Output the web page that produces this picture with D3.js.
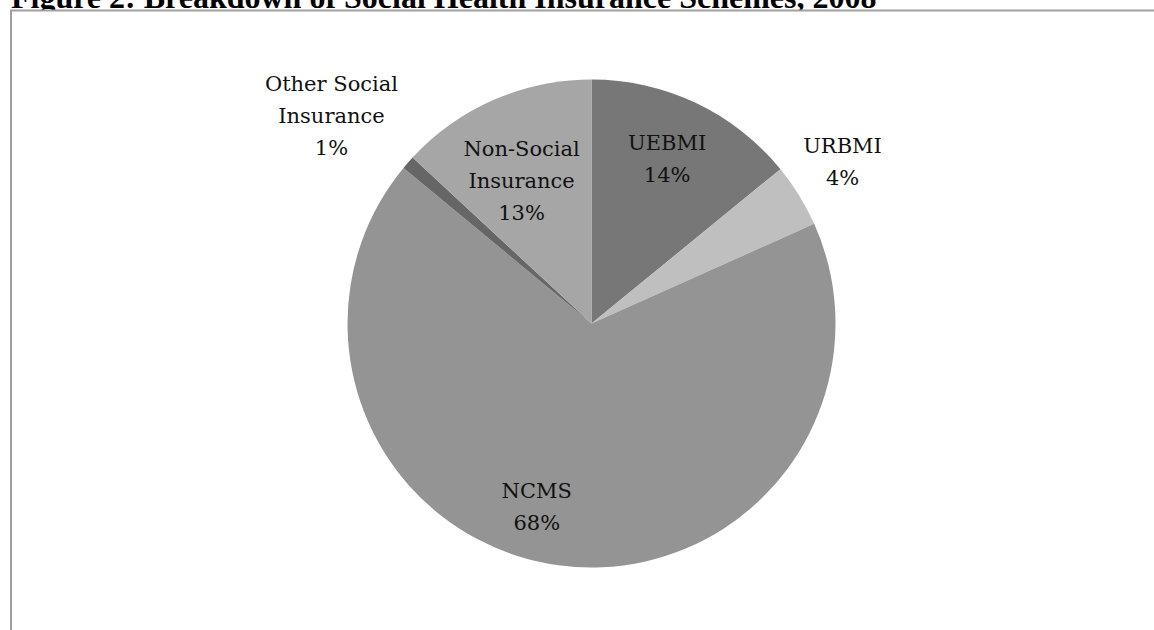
<!DOCTYPE html>
<html><head><meta charset="utf-8">
<script src="https://cdn.jsdelivr.net/npm/d3@7"></script>
<style>html,body{margin:0;padding:0;background:#fff;overflow:hidden}</style>
</head><body>
<svg id="c" width="1154" height="630"></svg>
<script>
const title = "Figure 2: Breakdown of Social Health Insurance Schemes, 2008";
const categories = ["UEBMI", "URBMI", "NCMS", "Other Social Insurance", "Non-Social Insurance"];
const labelLines = [["UEBMI"], ["URBMI"], ["NCMS"], ["Other Social", "Insurance"], ["Non-Social", "Insurance"]];
const values = [14.1, 4.2, 67.7, 0.9, 13.1];
const colors = ["#777777", "#bfbfbf", "#949494", "#666666", "#a6a6a6"];

const svg = d3.select("#c");
const cx = 591.5, cy = 323.5, R = 244;
// label placement (style): radius factor and small nudges
const labelRadius = [0.714, 1.209, 0.814, 1.346, 0.624];
const labelNudge = [[1, 0], [0, 0], [-28, -6], [-13, 16], [-9, 4]];
const lineH = 32;

// title (clipped at the top as in the source; chart area covers its descenders)
svg.append("text").attr("x", 11).attr("y", 8)
  .attr("font-family", "Liberation Serif, Times New Roman, serif")
  .attr("font-weight", "bold").attr("font-size", 32).attr("fill", "#000")
  .text(title);

// chart area frame
svg.append("rect").attr("x", 11).attr("y", 10.5).attr("width", 1300).attr("height", 800)
  .attr("fill", "#fff").attr("stroke", "#a0a0a0").attr("stroke-width", 2);

const pie = d3.pie().sort(null).value(d => d)(values);
const arc = d3.arc().innerRadius(0).outerRadius(R);
const g = svg.append("g").attr("transform", `translate(${cx},${cy})`);
g.selectAll("path").data(pie).join("path")
  .attr("d", arc).attr("fill", (d, i) => colors[i]);

pie.forEach((d, i) => {
  const a = (d.startAngle + d.endAngle) / 2;
  const r = labelRadius[i] * R;
  const x = Math.sin(a) * r + labelNudge[i][0];
  const y = -Math.cos(a) * r + labelNudge[i][1];
  const lines = labelLines[i].concat([Math.round(values[i]) + "%"]);
  const t = g.append("text").attr("text-anchor", "middle")
    .attr("font-family", "DejaVu Serif, serif").attr("font-size", 21).attr("fill", "#111");
  const y0 = y - (lines.length - 1) * lineH / 2;
  lines.forEach((l, k) => t.append("tspan").attr("x", x).attr("y", y0 + k * lineH).text(l));
});
</script>
</body></html>
